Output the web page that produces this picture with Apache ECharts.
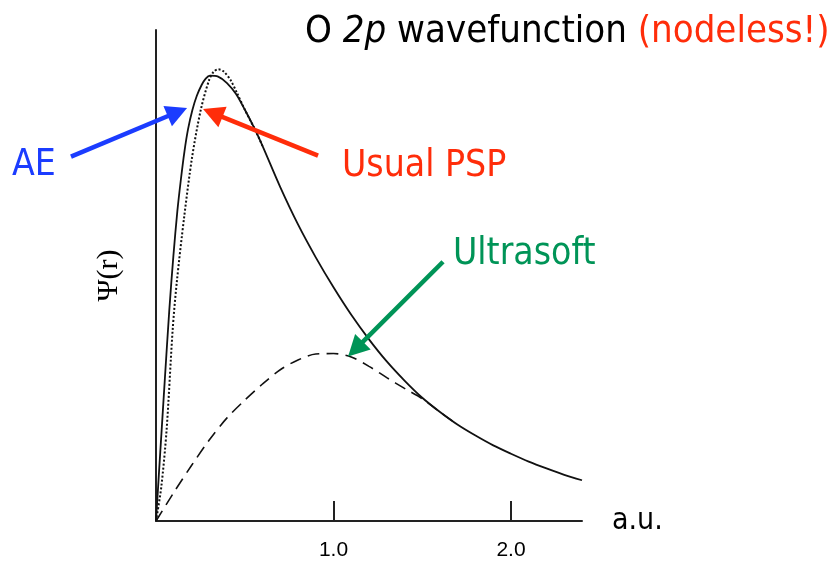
<!DOCTYPE html>
<html>
<head>
<meta charset="utf-8">
<script src="https://cdn.jsdelivr.net/npm/echarts@6/dist/echarts.min.js"></script>
<style>
  html, body { margin: 0; padding: 0; background: #ffffff; }
  #chart { width: 834px; height: 561px; }
</style>
</head>
<body>
<div id="chart"></div>
<script>
// Radial coordinate r (a.u.) and psi(r) for the oxygen 2p wavefunction
const aeR   = [0, 0.016, 0.032, 0.05, 0.075, 0.098, 0.12, 0.14, 0.16, 0.18, 0.205, 0.23, 0.257, 0.28, 0.304, 0.35, 0.4, 0.45, 0.5, 0.558, 0.6, 0.7, 0.8, 0.9, 1.0, 1.1, 1.2, 1.3, 1.4, 1.5, 1.6, 1.7, 1.8, 1.9, 2.0, 2.1, 2.2, 2.3, 2.4];
const aePsi = [0, 0.094, 0.186, 0.29, 0.43, 0.54, 0.63, 0.695, 0.752, 0.797, 0.837, 0.866, 0.888, 0.901, 0.907, 0.905, 0.892, 0.870, 0.838, 0.797, 0.764, 0.680, 0.604, 0.537, 0.476, 0.420, 0.370, 0.325, 0.286, 0.251, 0.222, 0.196, 0.174, 0.154, 0.137, 0.121, 0.107, 0.094, 0.083];

const pspR   = [0, 0.03, 0.06, 0.094, 0.117, 0.159, 0.203, 0.252, 0.299, 0.325, 0.351, 0.38, 0.42, 0.456, 0.5, 0.558, 0.6];
const pspPsi = [0, 0.07, 0.187, 0.39, 0.486, 0.62, 0.74, 0.837, 0.898, 0.915, 0.920, 0.916, 0.898, 0.872, 0.838, 0.797, 0.764];

const usR   = [0, 0.1, 0.2, 0.3, 0.4, 0.5, 0.6, 0.7, 0.8, 0.9, 1.0, 1.1, 1.2, 1.3, 1.4, 1.5, 1.6, 1.7];
const usPsi = [0, 0.058, 0.113, 0.165, 0.21, 0.246, 0.279, 0.308, 0.328, 0.340, 0.341, 0.334, 0.315, 0.292, 0.27, 0.249, 0.222, 0.196];

const xTicks = [1.0, 2.0];

// Annotation arrows: [tail, tip] in (r, psi)
const arrowAE  = [[-0.479, 0.742], [0.175, 0.841]];
const arrowPSP = [[0.913, 0.744], [0.265, 0.839]];
const arrowUS  = [[1.617, 0.528], [1.082, 0.335]];

const BLUE = '#1b3cff';
const RED = '#ff2d0a';
const GREEN = '#009457';
const FONT = "'DejaVu Sans Condensed', 'DejaVu Sans', sans-serif";

const zip = (xs, ys) => xs.map((x, i) => [x, ys[i]]);

const chart = echarts.init(document.getElementById('chart'), null, { renderer: 'canvas' });

chart.setOption({
  animation: false,
  backgroundColor: '#ffffff',
  grid: { left: 156, top: 30, right: 252, bottom: 39, containLabel: false },
  xAxis: {
    type: 'value',
    min: 0,
    max: 2.4,
    interval: 1,
    name: 'a.u.',
    nameLocation: 'end',
    nameGap: 30,
    nameTextStyle: { fontFamily: FONT, fontSize: 30, color: '#000', verticalAlign: 'middle' },
    axisLine: { show: true, onZero: false, lineStyle: { color: '#222', width: 2 } },
    axisTick: { show: true, inside: true, length: 20, lineStyle: { color: '#222', width: 2 },
      customValues: xTicks },
    axisLabel: { show: true, margin: 19, fontFamily: "'Liberation Sans', Arial, sans-serif", fontSize: 21, color: '#000',
      customValues: xTicks, formatter: v => v.toFixed(1) },
    splitLine: { show: false }
  },
  yAxis: {
    type: 'value',
    min: 0,
    max: 1,
    name: 'Ψ(r)',
    nameLocation: 'middle',
    nameRotate: 90,
    nameGap: 32,
    nameTextStyle: { fontFamily: "'Liberation Serif', serif", fontSize: 30, color: '#000' },
    axisLine: { show: true, lineStyle: { color: '#222', width: 2 } },
    axisTick: { show: false },
    axisLabel: { show: false },
    splitLine: { show: false }
  },
  series: [
    {
      name: 'Ultrasoft', type: 'line', data: zip(usR, usPsi), smooth: 0.3, showSymbol: false,
      lineStyle: { color: '#111', width: 1.6, type: [12, 7] }, z: 2
    },
    {
      name: 'Usual PSP', type: 'line', data: zip(pspR, pspPsi), smooth: 0.3, showSymbol: false,
      lineStyle: { color: '#111', width: 2, type: [2, 2] }, z: 3
    },
    {
      name: 'AE', type: 'line', data: zip(aeR, aePsi), smooth: 0.3, showSymbol: false,
      lineStyle: { color: '#111', width: 1.8 }, z: 4
    }
  ]
});

function arrowShapes(pair, color) {
  const [x0, y0] = chart.convertToPixel({ gridIndex: 0 }, pair[0]);
  const [x1, y1] = chart.convertToPixel({ gridIndex: 0 }, pair[1]);
  const L = Math.hypot(x1 - x0, y1 - y0);
  const ux = (x1 - x0) / L, uy = (y1 - y0) / L;
  const headLen = 21, headHalf = 11;
  const bx = x1 - ux * headLen, by = y1 - uy * headLen;
  const px = -uy, py = ux;
  return [
    { type: 'line', silent: true, z: 10,
      shape: { x1: x0, y1: y0, x2: bx + ux * 3, y2: by + uy * 3 },
      style: { stroke: color, lineWidth: 4.5 } },
    { type: 'polygon', silent: true, z: 10,
      shape: { points: [[x1, y1], [bx + px * headHalf, by + py * headHalf], [bx - px * headHalf, by - py * headHalf]] },
      style: { fill: color } }
  ];
}

function label(text, x, y, color) {
  return { type: 'text', x: x, y: y, z: 10, silent: true,
    style: { text: text, fill: color, font: '37px ' + FONT, verticalAlign: 'middle', align: 'left' } };
}

chart.setOption({
  graphic: [
    ...arrowShapes(arrowAE, BLUE),
    ...arrowShapes(arrowPSP, RED),
    ...arrowShapes(arrowUS, GREEN),
    label('AE', 12, 165, BLUE),
    label('Usual PSP', 342, 166, RED),
    label('Ultrasoft', 453, 254, GREEN),
    {
      type: 'text', x: 305, y: 32, z: 10, silent: true,
      style: {
        text: '{n|O }{i|2p}{n| wavefunction }{r|(nodeless!)}',
        verticalAlign: 'middle', align: 'left',
        rich: {
          n: { fontFamily: FONT, fontSize: 38, fill: '#000' },
          i: { fontFamily: FONT, fontSize: 38, fontStyle: 'italic', fill: '#000' },
          r: { fontFamily: FONT, fontSize: 38, fill: RED }
        }
      }
    }
  ]
});
</script>
</body>
</html>
